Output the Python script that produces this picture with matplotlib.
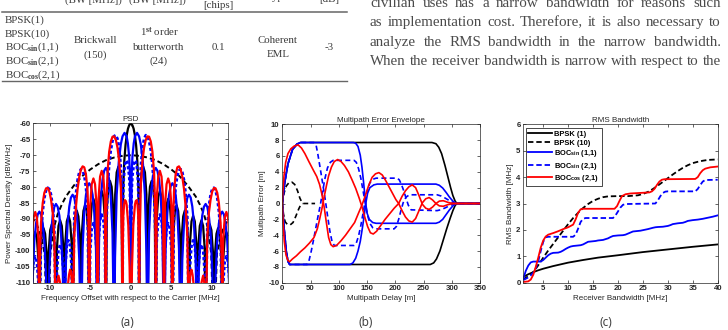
import matplotlib
matplotlib.use("Agg")
import matplotlib.pyplot as plt
import numpy as np

plt.rcParams['font.family'] = 'Liberation Sans'
plt.rcParams['font.weight'] = 'bold'
plt.rcParams['axes.unicode_minus'] = False
plt.rcParams['mathtext.fontset'] = 'custom'
plt.rcParams['mathtext.rm'] = 'Liberation Serif'
plt.rcParams['mathtext.bf'] = 'Liberation Sans:bold'
plt.rcParams['mathtext.it'] = 'Liberation Serif:italic'

W, H = 728, 330

# ---------------- table / text data ----------------
table_signals = ["BPSK(1)", "BPSK(10)", r"BOC$_{\mathrm{sin}}$(1,1)",
                 r"BOC$_{\mathrm{sin}}$(2,1)", r"BOC$_{\mathrm{cos}}$(2,1)"]
table_cells = [["Brickwall", "(150)"], [r"1$^{\mathrm{st}}$ order", "butterworth", "(24)"],
               ["0.1"], ["Coherent", "EML"], ["-3"]]
table_header = ["(BW [MHz])", "(BW [MHz])", "[chips]", "Type", "[dB]"]
body_lines = ["civilian uses has a narrow bandwidth for reasons such",
              "as implementation cost. Therefore, it is also necessary to",
              "analyze the RMS bandwidth in the narrow bandwidth.",
              "When the receiver bandwidth is narrow with respect to the"]

# ---------------- (a) PSD, positive half [MHz], [dBW/Hz] ----------------
bpsk1_f = [0, 0.2, 0.35, 0.5, 0.65, 0.8, 0.92, 0.98, 1.02,
           1.14, 1.33, 1.53, 1.74, 1.92, 2.05,
           2.17, 2.36, 2.56, 2.76, 2.95, 3.07,
           3.19, 3.38, 3.58, 3.78, 3.97, 4.09,
           4.21, 4.40, 4.60, 4.81, 5.00, 5.12,
           5.24, 5.43, 5.63, 5.83, 6.02, 6.14,
           6.26, 6.45, 6.65, 6.85, 7.04, 7.16,
           7.28, 7.47, 7.67, 7.88, 8.06, 8.18,
           8.30, 8.49, 8.70, 8.90, 9.09, 9.21,
           9.33, 9.52, 9.72, 9.92, 10.11, 10.23,
           10.35, 10.54, 10.74, 10.95, 11.13, 11.25,
           11.37, 11.56, 11.76, 11.97, 12.16, 12.28]
bpsk1_db = [-60, -60.6, -61.7, -63.7, -66.8, -71.8, -79.2, -87.2, -130,
            -82.3, -75.4, -73.6, -75.4, -82.3, -130,
            -86.8, -79.9, -78.1, -79.9, -86.8, -130,
            -89.9, -83.0, -81.2, -83.0, -89.9, -130,
            -92.4, -85.5, -83.7, -85.5, -92.4, -130,
            -94.4, -87.5, -85.7, -87.5, -94.4, -130,
            -96.1, -89.2, -87.4, -89.2, -96.1, -130,
            -97.7, -90.8, -89.0, -90.8, -97.7, -130,
            -99.1, -92.2, -90.4, -92.2, -99.1, -130,
            -100.4, -93.5, -91.7, -93.5, -100.4, -130,
            -101.6, -94.7, -92.9, -94.7, -101.6, -130,
            -102.8, -95.9, -94.1, -95.9, -102.8, -130]

bpsk10_f = [0, 1, 2, 3, 4, 5, 6, 7, 8, 8.5, 9, 9.5, 9.9, 10.23, 10.6, 11, 11.5, 12, 12.3]
bpsk10_db = [-70, -70.2, -70.7, -71.5, -72.8, -74.5, -76.6, -79.5, -83.0, -85.5, -88.5,
             -93.0, -101, -130, -101, -95.8, -92.2, -90.1, -89.6]

bocs11_f = [0, 0.10, 0.20, 0.36, 0.51, 0.77, 1.02, 1.23, 1.48, 1.74, 1.94, 2.05,
            2.25, 2.46, 2.66, 2.87, 3.07, 3.28, 3.48, 3.69, 3.89, 4.09,
            4.29, 4.50, 4.70, 4.91, 5.12, 5.32, 5.52, 5.73, 5.93, 6.14,
            6.34, 6.55, 6.75, 6.96, 7.16, 7.37, 7.57, 7.78, 7.98, 8.18,
            8.38, 8.59, 8.79, 9.00, 9.21, 9.41, 9.61, 9.82, 10.02, 10.23,
            10.43, 10.64, 10.84, 11.05, 11.25, 11.46, 11.66, 11.87, 12.07, 12.28]
bocs11_db = [-130, -76.4, -70.5, -66.3, -64.1, -63.0, -64.1, -66.6, -72.1, -82.5, -102, -130,
             -94.4, -83.2, -77.7, -74.9, -74.0, -74.9, -77.7, -83.2, -94.4, -130,
             -99.2, -88.0, -82.5, -79.7, -78.8, -79.7, -82.5, -88.0, -99.2, -130,
             -102.8, -91.6, -86.1, -83.3, -82.4, -83.3, -86.1, -91.6, -102.8, -130,
             -105.7, -94.5, -89.0, -86.2, -85.3, -86.2, -89.0, -94.5, -105.7, -130,
             -108.1, -96.9, -91.4, -88.6, -87.7, -88.6, -91.4, -96.9, -108.1, -130]

bocs21_f = [0, 0.10, 0.20, 0.41, 0.51, 0.61, 0.72, 0.87, 0.97, 1.02,
            1.07, 1.23, 1.43, 1.64, 1.84, 2.05, 2.25, 2.46, 2.66, 2.86, 3.02, 3.07,
            3.19, 3.38, 3.58, 3.78, 3.97, 4.09,
            4.21, 4.40, 4.60, 4.81, 5.00, 5.12,
            5.32, 5.52, 5.73, 5.93, 6.14, 6.34, 6.55, 6.75, 6.96, 7.16,
            7.28, 7.47, 7.67, 7.88, 8.06, 8.18,
            8.30, 8.49, 8.70, 8.90, 9.09, 9.21,
            9.41, 9.61, 9.82, 10.02, 10.23, 10.43, 10.64, 10.84, 11.05, 11.25,
            11.37, 11.56, 11.76, 11.97, 12.16, 12.28]
bocs21_db = [-130, -82, -76.6, -72.2, -71.6, -71.8, -72.9, -77.6, -86.2, -130,
             -85.7, -73.4, -67.5, -64.8, -63.7, -64.0, -65.6, -68.5, -73.1, -81.0, -95, -130,
             -97.3, -90.4, -88.6, -90.4, -97.3, -130,
             -100, -93.1, -91.3, -93.1, -100, -130,
             -87.0, -80.1, -76.5, -74.8, -74.4, -75.3, -77.7, -81.9, -89.4, -130,
             -105.4, -98.5, -96.7, -98.5, -105.4, -130,
             -106.7, -99.8, -98.0, -99.8, -106.7, -130,
             -92.8, -85.9, -82.3, -80.6, -80.2, -81.1, -83.5, -87.7, -95.2, -130,
             -110.4, -103.5, -101.7, -103.5, -110.4, -130]

bocc21_f = [0, 0.15, 0.31, 0.51, 0.61, 0.72, 0.82, 0.92, 0.99, 1.02,
            1.07, 1.23, 1.43, 1.64, 1.84, 2.05, 2.25, 2.46, 2.66, 2.86, 3.02, 3.07,
            3.19, 3.38, 3.58, 3.78, 3.97, 4.09,
            4.21, 4.40, 4.60, 4.81, 5.00, 5.12,
            5.22, 5.32, 5.52, 5.73, 5.93, 6.14, 6.34, 6.55, 6.75, 6.96, 7.16,
            7.25, 7.35, 7.47, 7.60, 7.75, 8.00, 8.18,
            8.50, 8.70, 8.90, 9.05, 9.15, 9.21,
            9.41, 9.61, 9.82, 10.02, 10.23, 10.43, 10.64, 10.84, 11.05, 11.20, 11.25,
            11.37, 11.56, 11.76, 11.97, 12.16, 12.28]
bocc21_db = [-130, -105, -92, -85.5, -84.4, -84.1, -85.3, -89, -100, -130,
             -99, -79.4, -71.9, -67.6, -65.2, -64.1, -64.2, -65.7, -68.9, -75.2, -88, -130,
             -83.6, -76.7, -74.9, -76.7, -83.6, -130,
             -86.0, -79.1, -77.3, -79.1, -86.0, -130,
             -90, -81.3, -76.0, -73.8, -73.5, -74.5, -76.8, -80.6, -86.2, -95.3, -130,
             -109, -106.5, -105.9, -107.5, -111, -120, -130,
             -115, -110, -107.8, -110, -118, -130,
             -95.6, -88.1, -83.9, -81.4, -80.3, -80.4, -81.8, -85.0, -91.2, -104, -130,
             -96.5, -89.6, -87.8, -89.6, -96.5, -130]

# ---------------- (b) multipath error envelope [m] ----------------
mp_bpsk1_up_d = [0, 4, 10, 18, 26, 32, 265, 272, 277, 282, 288, 293, 298, 302, 306, 309, 350]
mp_bpsk1_up_e = [0, 2.5, 5.0, 6.8, 7.5, 7.7, 7.7, 7.55, 7.1, 6.3, 4.8, 3.4, 2.0, 1.0, 0.3, 0.0, 0.0]
mp_bpsk1_lo_d = [0, 3, 7, 10, 13, 262, 268, 273, 279, 285, 291, 297, 302, 306, 309, 350]
mp_bpsk1_lo_e = [0, -3.0, -6.0, -7.3, -7.7, -7.7, -7.5, -7.0, -6.0, -4.6, -3.2, -1.9, -0.9, -0.25, 0.0, 0.0]

mp_bpsk10_up_d = [0, 3, 7, 12, 17, 22, 27, 31, 35, 38, 58]
mp_bpsk10_up_e = [0, 1.3, 2.2, 2.65, 2.7, 2.4, 1.6, 0.7, 0.1, 0, 0]
mp_bpsk10_lo_d = [0, 2, 5, 9, 14, 19, 24, 29, 33, 36]
mp_bpsk10_lo_e = [0, -1.3, -2.3, -2.65, -2.7, -2.4, -1.6, -0.7, -0.1, 0]

mp_bocs11_up_d = [0, 4, 10, 18, 26, 32, 126, 130, 134, 138, 141, 144, 147, 150, 154, 160, 166,
                  272, 278, 284, 290, 296, 302, 308, 350]
mp_bocs11_up_e = [0, 2.5, 5.0, 6.8, 7.5, 7.7, 7.7, 7.6, 7.2, 6.1, 4.6, 2.6, 0.4, -1.2, -2.0, -2.4, -2.5,
                  -2.5, -2.35, -2.0, -1.4, -0.8, -0.3, 0.0, 0.0]
mp_bocs11_lo_d = [0, 3, 7, 10, 13, 120, 125, 130, 134, 138, 142, 145, 148, 151, 155, 162, 168,
                  272, 278, 284, 290, 296, 302, 308, 350]
mp_bocs11_lo_e = [0, -3.0, -6.0, -7.3, -7.7, -7.7, -7.5, -6.9, -6.0, -4.8, -3.0, -1.5, 0.1, 1.3, 2.0, 2.35, 2.45,
                  2.45, 2.3, 1.95, 1.4, 0.8, 0.3, 0.0, 0.0]

mp_bocs21_a_d = [0, 4, 10, 18, 26, 32, 56, 60, 63, 67, 72, 76, 80, 84, 88, 92, 127, 131, 135, 139,
                 143, 147, 151, 155, 160, 166, 203, 207, 211, 215, 219, 223, 228, 274, 280, 287,
                 294, 300, 306, 350]
mp_bocs21_a_e = [0, 2.5, 5.0, 6.8, 7.5, 7.7, 7.7, 7.3, 6.2, 4.5, 2.3, 0.5, -1.5, -3.4, -4.8, -5.3, -5.3,
                 -5.0, -4.1, -2.8, -1.2, 0.4, 1.7, 2.6, 3.05, 3.2, 3.2, 3.0, 2.4, 1.6, 0.7, -0.2, -0.8,
                 -0.9, -0.8, -0.6, -0.35, -0.15, 0.0, 0.0]
mp_bocs21_b_d = [0, 3, 7, 10, 13, 44, 47, 51, 55, 59, 63, 67, 71, 75, 80, 85, 90, 127, 131, 135,
                 139, 143, 147, 151, 155, 160, 166, 198, 202, 206, 210, 214, 219, 225, 274, 281,
                 288, 295, 301, 306, 350]
mp_bocs21_b_e = [0, -3.0, -6.0, -7.3, -7.7, -7.7, -7.3, -6.1, -4.7, -3.2, -1.7, -0.3, 1.3, 3.0, 4.5, 5.2,
                 5.45, 5.45, 5.2, 4.4, 3.2, 1.6, 0.0, -1.5, -2.5, -3.05, -3.2, -3.2, -2.9, -2.0, -0.9,
                 0.1, 0.8, 1.1, 1.1, 0.95, 0.7, 0.4, 0.15, 0.0, 0.0]

mp_bocc21_a_d = [0, 1, 3, 6, 10, 15, 21, 28, 34, 40, 47, 55, 61, 66, 70, 74, 78, 82, 86, 90, 96,
                 104, 112, 120, 128, 135, 141, 147, 153, 159, 165, 171, 177, 183, 189, 195, 201,
                 206, 212, 218, 224, 230, 236, 242, 248, 254, 260, 266, 272, 278, 285, 293, 302, 350]
mp_bocc21_a_e = [0, 1.5, 3.5, 5.2, 6.3, 6.9, 7.25, 7.4, 7.0, 6.3, 5.3, 4.2, 3.4, 2.4, 1.2, -0.4, -2.4,
                 -4.3, -5.2, -5.45, -5.3, -4.7, -4.0, -3.2, -2.4, -1.2, -0.2, 1.0, 2.3, 3.3, 3.75, 3.9,
                 3.6, 2.9, 2.1, 1.3, 0.5, 0.0, -0.9, -1.7, -2.2, -2.35, -1.9, -0.9, 0.1, 0.6, 0.75,
                 0.45, 0.0, -0.3, -0.35, -0.15, 0.0, 0.0]
mp_bocc21_b_d = [0, 1.5, 3.5, 6.5, 10, 13, 18, 25, 32, 40, 48, 56, 62, 66, 70, 74, 78, 82, 87, 92,
                 98, 104, 110, 117, 124, 130, 136, 141, 146, 151, 156, 161, 167, 174, 182, 190, 198,
                 206, 212, 218, 224, 230, 236, 242, 248, 254, 260, 266, 272, 278, 285, 293, 302, 350]
mp_bocc21_b_e = [0, -2.5, -4.8, -6.5, -7.2, -7.35, -7.0, -6.6, -6.1, -5.6, -5.0, -4.3, -3.2, -2.0,
                 -0.7, 0.8, 2.2, 3.5, 4.6, 5.3, 5.55, 5.3, 4.8, 4.0, 2.9, 1.9, 0.7, -0.4, -1.7, -2.9,
                 -3.7, -3.85, -3.5, -2.8, -2.0, -1.3, -0.6, 0.0, 0.9, 1.6, 2.1, 2.35, 2.0, 1.0, -0.1,
                 -0.6, -0.75, -0.45, 0.0, 0.3, 0.35, 0.15, 0.0, 0.0]

# ---------------- (c) RMS bandwidth [MHz] ----------------
rms_bpsk1_x = [1, 2, 3, 4, 5, 7, 10, 13, 16, 20, 25, 30, 35, 40]
rms_bpsk1 = [0.22, 0.32, 0.4, 0.47, 0.53, 0.63, 0.76, 0.86, 0.95, 1.04, 1.16, 1.26, 1.36, 1.45]

rms_bpsk10_x = [1, 2, 3, 4, 5, 6, 7, 8, 9, 10, 11, 12, 13, 14, 15, 16, 17, 18, 20, 22, 24, 25, 26,
                27, 28, 29, 30, 31, 32, 33, 34, 35, 36, 37, 38, 39, 40]
rms_bpsk10 = [0.12, 0.25, 0.4, 0.66, 0.95, 1.22, 1.47, 1.72, 1.97, 2.22, 2.45, 2.65, 2.83, 2.98,
              3.1, 3.18, 3.24, 3.27, 3.28, 3.28, 3.31, 3.36, 3.44, 3.55, 3.68, 3.82, 3.96, 4.1,
              4.23, 4.35, 4.45, 4.53, 4.58, 4.62, 4.65, 4.66, 4.67]

rms_bocs11_x = [1, 1.5, 2, 2.5, 3, 4.5, 5, 5.5, 6, 6.5, 7, 8, 8.5, 9, 9.5, 10, 10.5, 11, 12, 12.5,
                13, 13.5, 14, 15.5, 16, 17, 18, 18.5, 19, 20, 21, 21.5, 22, 22.5, 23, 24.5, 25,
                26, 27, 27.5, 28, 29, 30, 30.5, 31, 32, 33, 33.5, 34, 35, 36, 37, 38, 39, 40]
rms_bocs11 = [0.15, 0.45, 0.65, 0.77, 0.8, 0.8, 0.86, 0.95, 1.04, 1.1, 1.13, 1.14, 1.17, 1.22,
              1.28, 1.33, 1.37, 1.39, 1.41, 1.42, 1.45, 1.5, 1.55, 1.58, 1.6, 1.62, 1.68, 1.73,
              1.77, 1.79, 1.8, 1.82, 1.86, 1.9, 1.94, 1.97, 1.99, 2.03, 2.08, 2.1, 2.11, 2.12,
              2.15, 2.18, 2.22, 2.25, 2.27, 2.3, 2.34, 2.37, 2.39, 2.42, 2.46, 2.5, 2.55]

rms_bocs21_x = [1, 2, 2.5, 3, 3.5, 4, 4.5, 5, 5.5, 6, 11, 11.5, 12, 12.5, 13, 13.5, 19, 19.5, 20,
                20.5, 21, 21.5, 27.5, 28, 28.5, 29, 29.5, 30, 35.5, 36, 36.5, 37, 37.5, 40]
rms_bocs21 = [0.1, 0.2, 0.28, 0.38, 0.55, 0.81, 1.2, 1.55, 1.72, 1.74, 1.74, 1.82, 2.05, 2.3, 2.42,
              2.45, 2.45, 2.55, 2.7, 2.85, 2.95, 2.98, 3.0, 3.12, 3.28, 3.4, 3.45, 3.46, 3.46,
              3.55, 3.7, 3.83, 3.89, 3.9]

rms_bocc21_x = [1, 2, 2.5, 3, 3.5, 4, 4.5, 5, 5.5, 6, 7, 8, 9, 10, 11, 11.5, 12, 12.5, 13, 19.3,
                19.8, 20.3, 20.8, 21.5, 22.5, 26.3, 26.8, 27.3, 27.8, 28.3, 28.8, 29.3, 35.5, 36,
                36.5, 37, 37.5, 38.5, 40]
rms_bocc21 = [0.03, 0.05, 0.12, 0.3, 0.6, 0.95, 1.33, 1.6, 1.75, 1.82, 1.88, 1.95, 2.03, 2.1, 2.2,
              2.4, 2.65, 2.78, 2.8, 2.8, 2.9, 3.1, 3.28, 3.35, 3.38, 3.42, 3.46, 3.55, 3.7, 3.83,
              3.9, 3.92, 3.93, 4.0, 4.15, 4.26, 4.32, 4.37, 4.4]

legend_labels = ["BPSK (1)", "BPSK (10)", r"BOC$_{\mathbf{sin}}$ (1,1)",
                 r"BOC$_{\mathbf{sin}}$ (2,1)", r"BOC$_{\mathbf{cos}}$ (2,1)"]


def mirror(f, v):
    f = np.asarray(f, float)
    v = np.asarray(v, float)
    return np.concatenate([-f[::-1], f[1:]]), np.concatenate([v[::-1], v[1:]])


def fx(x):
    return x / W


def fy(y):
    return 1 - y / H


def px_axes(l, t, r, b):
    return fig.add_axes([l / W, 1 - b / H, (r - l) / W, (b - t) / H])


def matlab_look(ax):
    ax.tick_params(direction='in', length=2, width=0.5, top=True, right=True,
                   labelsize=5.6, pad=2, colors='#262626')
    for s in ax.spines.values():
        s.set_linewidth(0.5)
        s.set_color('#262626')


GREY = '#262626'
LAB = 5.8
fig = plt.figure(figsize=(W / 100, H / 100), dpi=100)

# ---------- table ----------
tfont = dict(family='Liberation Serif', weight='normal', color='#3a3a3a', fontsize=7.8)
fig.add_artist(plt.Line2D([fx(2), fx(347)], [fy(11.5)] * 2, color='#666666', lw=1.1))
fig.add_artist(plt.Line2D([fx(2), fx(347)], [fy(80.5)] * 2, color='#666666', lw=1.0))
for txt, cx, by in zip(table_header, [93, 157, 218, 278, 329], [2.5, 2.5, 8.5, 0.5, 2.5]):
    fig.text(fx(cx), fy(by), txt, ha='center', va='baseline', **tfont)
for i, s in enumerate(table_signals):
    fig.text(fx(5), fy(22.7 + 13.65 * i), s, ha='left', va='baseline', **tfont)
cell_cx = [95, 159, 218, 278, 329]
cell_base = [[43.3, 57.3], [36, 50, 63.5], [50], [43.3, 57.3], [50]]
for lines, cx, bys in zip(table_cells, cell_cx, cell_base):
    for ln, by in zip(lines, bys):
        fig.text(fx(cx), fy(by), ln, ha='center', va='baseline', **tfont)

# ---------- body text (justified) ----------
bfont = dict(family='Liberation Serif', weight='normal', color='#4a4a4a')
renderer = fig.canvas.get_renderer()
probe = [fig.text(0, 0, ln, fontsize=10, **bfont) for ln in body_lines]
max_w = max(t.get_window_extent(renderer).width for t in probe)
for t in probe:
    t.remove()
bfs = 10 * 351 / max_w
for ln, by in zip(body_lines, [7, 26.3, 45.6, 65]):
    words = ln.split()
    ts = [fig.text(0, fy(by), w, fontsize=bfs, va='baseline', **bfont) for w in words]
    ws = [t.get_window_extent(renderer).width for t in ts]
    gap = (721 - 370 - sum(ws)) / (len(ws) - 1)
    x = 370
    for t, w in zip(ts, ws):
        t.set_x(fx(x))
        x += w + gap

# ---------- (a) PSD ----------
ax = px_axes(33.3, 123.3, 228.3, 282.7)
f, v = mirror(bpsk1_f, bpsk1_db)
ax.plot(f, v, color='k', lw=1.6)
f, v = mirror(bpsk10_f, bpsk10_db)
ax.plot(f, v, color='k', lw=1.4, ls=(0, (2.6, 1.6)))
f, v = mirror(bocs11_f, bocs11_db)
ax.plot(f, v, color='#0000ff', lw=1.6)
f, v = mirror(bocs21_f, bocs21_db)
ax.plot(f, v, color='#0000ff', lw=1.9, ls=(0, (1.2, 0.9)))
f, v = mirror(bocc21_f, bocc21_db)
ax.plot(f, v, color='#ff0000', lw=1.6)
ax.set_xlim(-12, 12)
ax.set_ylim(-110, -60)
ax.set_xticks([-10, -5, 0, 5, 10])
ax.set_yticks(np.arange(-110, -59, 5))
ax.set_title('PSD', fontsize=LAB, pad=1.5, color=GREY)
ax.set_xlabel('Frequency Offset with respect to the Carrier [MHz]', fontsize=LAB, labelpad=1.5, color=GREY)
ax.set_ylabel('Power Spectral Density [dBW/Hz]', fontsize=LAB, labelpad=1.5, color=GREY)
matlab_look(ax)

# ---------- (b) Multipath error envelope ----------
ax = px_axes(282.3, 124.3, 480, 282.7)
for d, e in [(mp_bpsk1_up_d, mp_bpsk1_up_e), (mp_bpsk1_lo_d, mp_bpsk1_lo_e)]:
    ax.plot(d, e, color='k', lw=1.2)
for d, e in [(mp_bpsk10_up_d, mp_bpsk10_up_e), (mp_bpsk10_lo_d, mp_bpsk10_lo_e)]:
    ax.plot(d, e, color='k', lw=1.2, ls=(0, (3, 2)))
for d, e in [(mp_bocs11_up_d, mp_bocs11_up_e), (mp_bocs11_lo_d, mp_bocs11_lo_e)]:
    ax.plot(d, e, color='#0000ff', lw=1.2)
for d, e in [(mp_bocs21_a_d, mp_bocs21_a_e), (mp_bocs21_b_d, mp_bocs21_b_e)]:
    ax.plot(d, e, color='#0000ff', lw=1.2, ls=(0, (3, 2)))
for d, e in [(mp_bocc21_a_d, mp_bocc21_a_e), (mp_bocc21_b_d, mp_bocc21_b_e)]:
    ax.plot(d, e, color='#ff0000', lw=1.2)
ax.set_xlim(0, 350)
ax.set_ylim(-10, 10)
ax.set_xticks(np.arange(0, 351, 50))
ax.set_yticks(np.arange(-10, 11, 2))
ax.set_title('Multipath Error Envelope', fontsize=LAB, pad=1.5, color=GREY)
ax.set_xlabel('Multipath Delay [m]', fontsize=LAB, labelpad=1.5, color=GREY)
ax.set_ylabel('Multipath Error [m]', fontsize=LAB, labelpad=1.5, color=GREY)
matlab_look(ax)

# ---------- (c) RMS bandwidth ----------
ax = px_axes(523.3, 124.3, 717.7, 282.7)
ax.plot(rms_bpsk1_x, rms_bpsk1, color='k', lw=1.3, label=legend_labels[0])
ax.plot(rms_bpsk10_x, rms_bpsk10, color='k', lw=1.3, ls=(0, (3, 1.6)), label=legend_labels[1])
ax.plot(rms_bocs11_x, rms_bocs11, color='#0000ff', lw=1.3, label=legend_labels[2])
ax.plot(rms_bocs21_x, rms_bocs21, color='#0000ff', lw=1.3, ls=(0, (3, 1.6)), label=legend_labels[3])
ax.plot(rms_bocc21_x, rms_bocc21, color='#ff0000', lw=1.3, label=legend_labels[4])
ax.set_xlim(1, 40)
ax.set_ylim(0, 6)
ax.set_xticks(np.arange(5, 41, 5))
ax.set_yticks(np.arange(0, 7, 1))
ax.set_title('RMS Bandwidth', fontsize=LAB, pad=1.5, color=GREY)
ax.set_xlabel('Receiver Bandwidth [MHz]', fontsize=LAB, labelpad=1.5, color=GREY)
ax.set_ylabel('RMS Bandwidth [MHz]', fontsize=LAB, labelpad=1.5, color=GREY)
leg = ax.legend(loc='upper left', bbox_to_anchor=(0.012, 0.975), fontsize=5.4, handlelength=3.2,
                handletextpad=0.3, labelspacing=0.2, borderpad=0.3, borderaxespad=0,
                fancybox=False, framealpha=1, edgecolor='k')
leg.get_frame().set_linewidth(0.5)
matlab_look(ax)

# ---------- sub-figure labels ----------
for lab, cx in zip(['(a)', '(b)', '(c)'], [127, 366, 606]):
    fig.text(fx(cx), fy(322), lab, ha='center', va='center', fontsize=8.5,
             family='Noto Sans', weight='normal', color='#444444')

fig.savefig('out.png', dpi=100)
